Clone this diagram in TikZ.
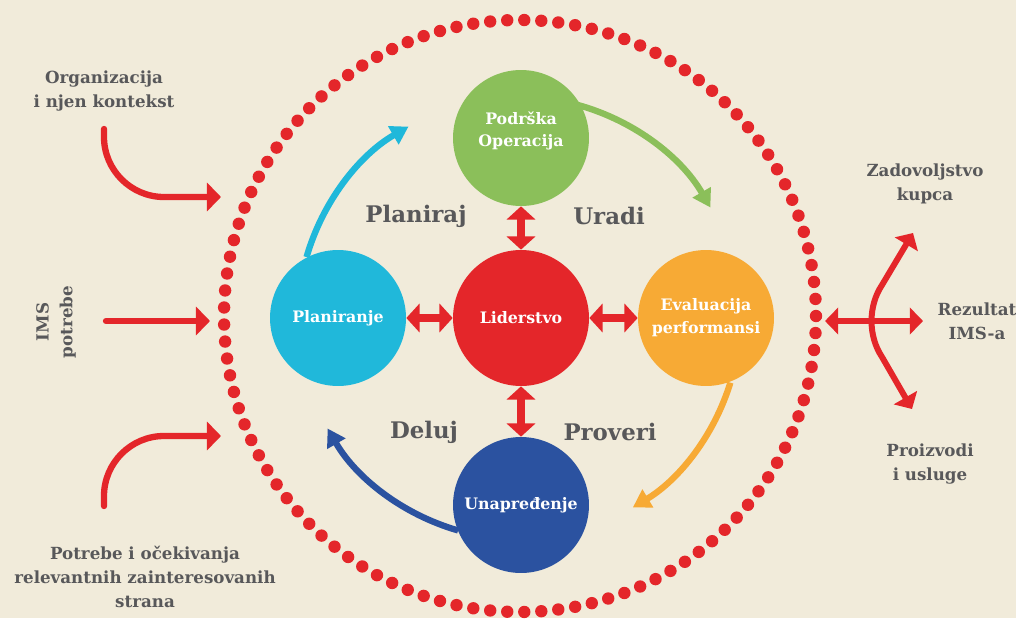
\documentclass[tikz,border=0pt]{standalone}
\usepackage{fontspec}
\setmainfont{DejaVu Serif}
\usetikzlibrary{arrows.meta}

\definecolor{bgbeige}{HTML}{F1EBDA}
\definecolor{imsred}{HTML}{E4262A}
\definecolor{imsgreen}{HTML}{8BBF5A}
\definecolor{imscyan}{HTML}{20B8DA}
\definecolor{imsorange}{HTML}{F7AA35}
\definecolor{imsblue}{HTML}{2B52A0}
\definecolor{imsgray}{HTML}{58585A}

\begin{document}
\begin{tikzpicture}[x=0.02cm, y=-0.02cm,
    phase/.style={circle, minimum size=2.72cm, inner sep=0pt, text=white, align=center,
        font=\bfseries\fontsize{9}{13}\selectfont},
    sidetext/.style={text=imsgray, align=center, font=\bfseries\fontsize{9.5}{13.5}\selectfont},
    pdca/.style={text=imsgray, font=\bfseries\fontsize{13}{16}\selectfont},
    bothway/.style={imsred, line width=4.5pt, {Triangle[length=7.5pt,width=16pt]}-{Triangle[length=7.5pt,width=16pt]}},
    cycarrow/.style={line width=3.6pt, -{Triangle[length=10pt,width=11.5pt]}},
    inarrow/.style={imsred, line width=3.6pt, line cap=round, -{Triangle[length=8pt,width=16pt]}},
    outarrow/.style={imsred, line width=3.4pt, {Triangle[length=7.5pt,width=15pt]}-{Triangle[length=7.5pt,width=15pt]}}]

    % Background and frame
    \fill[bgbeige] (0,0) rectangle (1016,618);
    \useasboundingbox (0,0) rectangle (1016,618);

    % Dotted ring
    \coordinate (ring) at (520,316);
    \foreach \i in {1,...,109}
        \fill[imsred] (ring) ++({\i/109*360}:296) circle (6.2);

    % Cycle arrows around the centre
    \coordinate (cyc) at (519,318);
    \draw[cycarrow, imsgreen] ([shift={(-76:221)}]cyc) arc[start angle=-76, end angle=-30, radius=221];
    \draw[cycarrow, imsorange] ([shift={(17:221)}]cyc) arc[start angle=17, end angle=59, radius=221];
    \draw[cycarrow, imsblue] ([shift={(106:221)}]cyc) arc[start angle=106, end angle=150, radius=221];
    \draw[cycarrow, imscyan] ([shift={(-164:221)}]cyc) arc[start angle=-164, end angle=-120, radius=221];

    % Phases
    \node[phase, fill=imsgreen,
        label={[text=white, align=center, font=\bfseries\fontsize{9}{13}\selectfont, yshift=4pt]center:Podrška\\Operacija}]
        (podrska) at (521,138) {};
    \node[phase, fill=imscyan] (planiranje) at (338,318) {Planiranje};
    \node[phase, fill=imsred] (liderstvo) at (521,318) {Liderstvo};
    \node[phase, fill=imsorange] (evaluacija) at (706,318) {Evaluacija\\performansi};
    \node[phase, fill=imsblue] (unapredjenje) at (521,505) {Unapređenje};

    \draw[bothway] (planiranje) -- (liderstvo);
    \draw[bothway] (liderstvo) -- (evaluacija);
    \draw[bothway] (podrska) -- (liderstvo);
    \draw[bothway] (liderstvo) -- (unapredjenje);

    % PDCA words
    \node[pdca] (planiraj) at (416,216) {Planiraj};
    \node[pdca] (uradi) at (609,216) {Uradi};
    \node[pdca] (deluj) at (424,432) {Deluj};
    \node[pdca] (proveri) at (610,432) {Proveri};

    % Inputs
    \node[sidetext] (kontekst) at (104,91) {Organizacija\\i njen kontekst};
    \node[sidetext, rotate=90] (potrebe) at (56,322) {IMS\\potrebe};
    \node[sidetext] (strane) at (145,577) {Potrebe i očekivanja\\relevantnih zainteresovanih\\strana};

    \coordinate (kontekst start) at (104,129);
    \coordinate (kontekst end) at (221,197);
    \draw[inarrow] (kontekst start) -- (104,137) .. controls (104,170) and (131,197) .. (164,197) -- (kontekst end);

    \coordinate (potrebe start) at (106,321);
    \coordinate (potrebe end) at (210,321);
    \draw[inarrow] (potrebe start) -- (potrebe end);

    \coordinate (strane start) at (104,506);
    \coordinate (strane end) at (221,436);
    \draw[inarrow] (strane start) -- (104,496) .. controls (104,463) and (131,436) .. (164,436) -- (strane end);

    % Outputs
    \node[sidetext] (kupac) at (925,184) {Zadovoljstvo\\kupca};
    \node[sidetext] (rezultat) at (977,321) {Rezultat\\IMS-a};
    \node[sidetext] (proizvodi) at (930,464) {Proizvodi\\i usluge};

    \coordinate (rez left) at (825,321);
    \coordinate (rez right) at (923,321);
    \draw[outarrow] (rez left) -- (rez right);

    \coordinate (kupac tip) at (913,233);
    \coordinate (proizvodi tip) at (912,409);
    \draw[outarrow] (kupac tip) -- (882,285) .. controls (868,306) and (868,336) .. (882,357) -- (proizvodi tip);

\end{tikzpicture}
\end{document}
